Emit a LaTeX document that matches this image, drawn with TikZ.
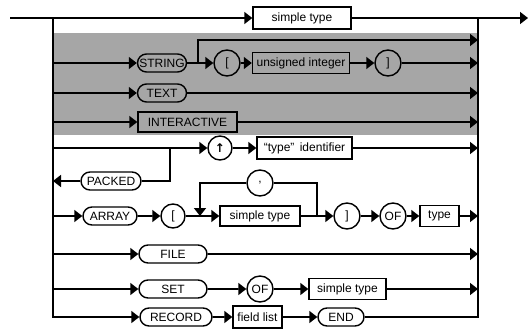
\documentclass[tikz,border=0pt]{standalone}
\usepackage{fontspec}
\setmainfont{Liberation Sans}
\newfontfamily\arrowfont{DejaVu Sans}
\usetikzlibrary{arrows.meta,shapes.misc}
\tikzset{
  kw/.style={draw, rounded rectangle, line width=1.4pt, minimum height=18pt, inner sep=1pt},
  box/.style={draw, rectangle, line width=1.4pt, minimum height=21pt, inner sep=1pt},
  sym/.style={draw, circle, line width=1.4pt, minimum size=25pt, inner sep=0pt},
  rail/.style={line width=1.6pt},
  flow/.style={rail, -{Triangle[length=8pt,width=12pt]}}
}
\begin{document}
\begin{tikzpicture}[x=1pt,y=-1pt,font=\fontsize{12}{14}\selectfont]
\useasboundingbox (0,0) rectangle (529,329);
% shaded part
\fill[black!35] (53,33) rectangle (478,135);
\coordinate (start) at (10,18);
\coordinate (end) at (528,18);
\coordinate (L) at (53,18);
\coordinate (R) at (478,18);
\node[box, minimum width=98pt, minimum height=22pt] (st) at (302,18) {simple type};
\draw[flow] (start) -- (st);
\draw[flow] (st) -- (end);
% STRING
\node[kw, minimum width=51pt] (str) at (162,63) {STRING};
\node[sym, minimum size=26pt] (lb) at (227,63) {[};
\node[box, minimum width=97pt] (uint) at (301,63) {unsigned integer};
\node[sym, minimum size=26pt] (rb) at (388,63) {]};
\coordinate (skip) at (198,63);
\coordinate (skiptop) at (198,40);
\draw[flow] (str.west -| L) -- (str);
\draw[rail] (str) -- (skip);
\draw[flow] (skip) -- (lb);
\draw[flow] (lb) -- (uint);
\draw[flow] (uint) -- (rb);
\draw[flow] (rb) -- (rb -| R);
\draw[flow] (skip) -- (skiptop) -- (skiptop -| R);
% TEXT
\node[kw, minimum width=51pt] (txt) at (162,93) {TEXT};
\draw[flow] (txt.west -| L) -- (txt);
\draw[flow] (txt) -- (txt -| R);
% INTERACTIVE
\node[box, minimum width=99pt, minimum height=20pt] (inter) at (187.5,122) {INTERACTIVE};
\draw[flow] (inter.west -| L) -- (inter);
\draw[flow] (inter) -- (inter -| R);
% pointer
\node[sym, minimum size=24pt] (up) at (220,148) {\arrowfont\bfseries ↑};
\node[box, minimum width=95pt, minimum height=22pt] (tid) at (304.5,148) {``type''\ \,identifier};
\coordinate (pk) at (170,148);
\draw[rail] (up -| L) -- (pk);
\draw[flow] (pk) -- (up);
\draw[flow] (up) -- (tid);
\draw[flow] (tid) -- (tid -| R);
\node[kw, minimum width=62pt] (pkd) at (111,181) {PACKED};
\draw[rail] (pk) |- (pkd.east);
\draw[flow] (pkd) -- (pkd -| L);
% ARRAY
\node[kw, minimum width=56pt] (arr) at (110,216) {ARRAY};
\node[sym, minimum size=24pt] (alb) at (173,216) {[};
\coordinate (rep) at (200,216);
\node[box, minimum width=80pt, minimum height=20pt] (ast) at (260,216) {simple type};
\coordinate (back) at (317,216);
\node[sym, minimum size=26pt] (com) at (260,183) {,};
\node[sym, minimum size=26pt] (arb) at (347,216) {]};
\node[sym, minimum size=26pt] (aof) at (393,216) {OF};
\node[box, minimum width=39pt] (aty) at (439.5,216) {type};
\draw[flow] (arr.west -| L) -- (arr);
\draw[flow] (arr) -- (alb);
\draw[rail] (alb) -- (rep);
\draw[flow] (rep) -- (ast);
\draw[rail] (ast) -- (back);
\draw[flow] (back) -- (arb);
\draw[rail] (back) |- (com.east);
\draw[flow] (com.west) -| (rep);
\draw[flow] (arb) -- (aof);
\draw[flow] (aof) -- (aty);
\draw[flow] (aty) -- (aty -| R);
% FILE
\node[kw, minimum width=70pt] (fil) at (173,254) {FILE};
\draw[flow] (fil.west -| L) -- (fil);
\draw[flow] (fil) -- (fil -| R);
% SET
\node[kw, minimum width=70pt] (set) at (173,289) {SET};
\node[sym, minimum size=26pt] (sof) at (260,289) {OF};
\node[box, minimum width=77pt] (sst) at (347.5,289) {simple type};
\draw[flow] (set.west -| L) -- (set);
\draw[flow] (set) -- (sof);
\draw[flow] (sof) -- (sst);
\draw[flow] (sst) -- (sst -| R);
% RECORD
\node[kw, minimum width=74pt] (rec) at (176,317) {RECORD};
\node[box, minimum width=49pt, minimum height=22pt] (fl) at (257.5,317) {field list};
\node[kw, minimum width=48pt] (endk) at (341,317) {END};
\draw[flow] (L) |- (rec);
\draw[flow] (rec) -- (fl);
\draw[flow] (fl) -- (endk);
\draw[rail] (endk) -| (R);
\end{tikzpicture}
\end{document}
